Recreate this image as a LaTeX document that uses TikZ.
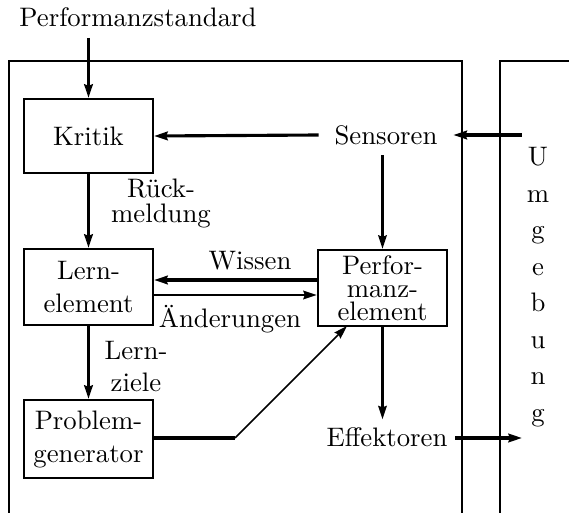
\documentclass[tikz,border=0pt]{standalone}
\usetikzlibrary{arrows.meta}
\begin{document}
\begin{tikzpicture}[x=0.4pt,y=-0.4pt,
  font=\fontsize{10.7}{12.8}\selectfont,
  tip/.style={-{Stealth[length=5.4pt,width=3.4pt,inset=0.6pt]}},
  heavy/.style={line width=1.25pt},
  medium/.style={line width=0.95pt},
  frame/.style={line width=0.8pt},
  unit/.style={draw,line width=0.9pt,inner sep=0pt,align=center,
    minimum width=51.6pt},
  label/.style={inner sep=0pt,align=center}]
\useasboundingbox (0,0) rectangle (569,513);

% agent frame and environment frame, both open at the bottom
\draw[frame] (9,513) -- (9,61) -- (462,61) -- (462,513);
\draw[frame] (569,61) -- (500,61) -- (500,513);

% components
\node[unit,minimum height=29.6pt] (kritik) at (88.5,136) {Kritik};
\node[unit,minimum height=30.4pt,font=\fontsize{10.7}{13.2}\selectfont]
  (lern) at (88.5,287) {Lern-\\element};
\node[unit,minimum height=31.2pt,font=\fontsize{10.7}{13.2}\selectfont]
  (problem) at (88.5,439) {Problem-\\generator};
\node[unit,minimum height=30.4pt,inner ysep=-3pt,font=\fontsize{10.7}{9.2}\selectfont]
  (perf) at (382.5,288) {Perfor-\\manz-\\element};

\node[inner xsep=6.2pt,inner ysep=4pt] (sensoren) at (386,135) {Sensoren};
\node[inner xsep=3pt,inner ysep=3pt] (effektoren) at (387,437) {Effektoren};

\node[label] (standard) at (138,17) {Performanzstandard};
\node[label,align=center,font=\fontsize{10.7}{10}\selectfont]
  (umgebung) at (538,147) [anchor=north]
  {U\\[4.6pt]m\\[4.6pt]g\\[4.6pt]e\\[4.6pt]b\\[4.6pt]u\\[4.6pt]n\\[4.6pt]g};

% connector labels
\node[label,font=\fontsize{10.7}{10}\selectfont] (rueck) at (161,203) {R\"uck-\\meldung};
\node[label,font=\fontsize{10.7}{12.8}\selectfont] (lernziele) at (136,367) {Lern-\\ziele};
\node[label] (wissen) at (250,261) {Wissen};
\node[label] (aenderungen) at (230,319) {\"Anderungen};

% connector anchors outside the nodes
\coordinate (stdfoot) at (88.5,38);
\coordinate (envin) at (522,135);
\coordinate (envout) at (522,438);
\coordinate (bend) at (235,438);
\coordinate (perfhit) at (347,326);

% connectors
\draw[heavy,tip] (stdfoot) -- (kritik.north);
\draw[heavy,tip] (sensoren.west) -- (kritik.east);
\draw[heavy,tip] (envin) -- (sensoren.east);
\draw[medium,tip] (sensoren.south -| perf.north) -- (perf.north);
\draw[heavy,tip] (kritik.south) -- (lern.north);
\draw[heavy,tip] (lern.south) -- (problem.north);
\draw[heavy,tip] (perf.west |- 0,280) -- (lern.east |- 0,280);
\draw[medium,tip] (lern.east |- 0,295) -- (perf.west |- 0,295);
\draw[medium,tip] (perf.south) -- (perf.south |- effektoren.north);
\draw[heavy,tip] (effektoren.east |- envout) -- (envout);
\draw[heavy] (problem.east |- bend) -- (bend);
\draw[line width=0.6pt,tip] (bend) -- (perfhit);
\end{tikzpicture}
\end{document}
